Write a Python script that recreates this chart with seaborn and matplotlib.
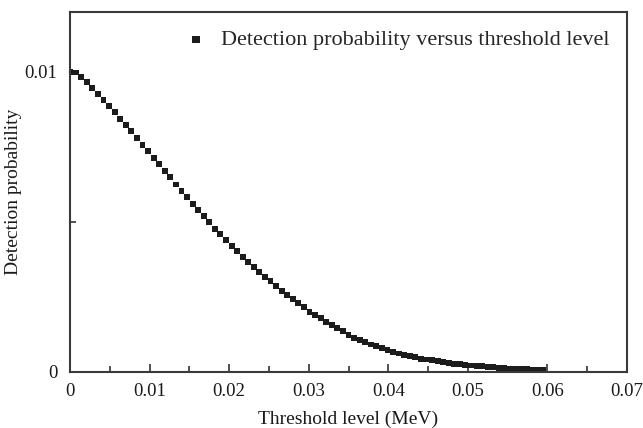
import numpy as np
import pandas as pd
import matplotlib
matplotlib.use("Agg")
import matplotlib.pyplot as plt
import seaborn as sns
from matplotlib.ticker import MultipleLocator, FixedLocator

# threshold level (MeV), sampled every 0.0007
threshold = [0.0000, 0.0007, 0.0014, 0.0021, 0.0028, 0.0035, 0.0042, 0.0049, 0.0056, 0.0063,
             0.0070, 0.0077, 0.0084, 0.0091, 0.0098, 0.0105, 0.0112, 0.0119, 0.0126, 0.0133,
             0.0140, 0.0147, 0.0154, 0.0161, 0.0168, 0.0175, 0.0182, 0.0189, 0.0196, 0.0203,
             0.0210, 0.0217, 0.0224, 0.0231, 0.0238, 0.0245, 0.0252, 0.0259, 0.0266, 0.0273,
             0.0280, 0.0287, 0.0294, 0.0301, 0.0308, 0.0315, 0.0322, 0.0329, 0.0336, 0.0343,
             0.0350, 0.0357, 0.0364, 0.0371, 0.0378, 0.0385, 0.0392, 0.0399, 0.0406, 0.0413,
             0.0420, 0.0427, 0.0434, 0.0441, 0.0448, 0.0455, 0.0462, 0.0469, 0.0476, 0.0483,
             0.0490, 0.0497, 0.0504, 0.0511, 0.0518, 0.0525, 0.0532, 0.0539, 0.0546, 0.0553,
             0.0560, 0.0567, 0.0574, 0.0581, 0.0588, 0.0595]

probability = [0.01000, 0.00998, 0.00983, 0.00965, 0.00946, 0.00926, 0.00907, 0.00886, 0.00866, 0.00844,
               0.00824, 0.00802, 0.00779, 0.00756, 0.00736, 0.00713, 0.00692, 0.00669, 0.00648, 0.00624,
               0.00601, 0.00582, 0.00559, 0.00539, 0.00519, 0.00498, 0.00477, 0.00459, 0.00438, 0.00419,
               0.00402, 0.00382, 0.00366, 0.00348, 0.00331, 0.00315, 0.00301, 0.00285, 0.00270, 0.00256,
               0.00241, 0.00228, 0.00215, 0.00200, 0.00189, 0.00178, 0.00166, 0.00155, 0.00145, 0.00134,
               0.00123, 0.00112, 0.00104, 0.00097, 0.00090, 0.00084, 0.00078, 0.00072, 0.00066, 0.00060,
               0.00055, 0.00051, 0.00047, 0.00043, 0.00040, 0.00037, 0.00034, 0.00031, 0.00029, 0.00026,
               0.00024, 0.00022, 0.00020, 0.00019, 0.00017, 0.00015, 0.00014, 0.00013, 0.00011, 0.00010,
               0.00009, 0.00008, 0.00007, 0.00006, 0.00005, 0.00004]

xticks = [0, 0.01, 0.02, 0.03, 0.04, 0.05, 0.06, 0.07]
xticklabels = ["0", "0.01", "0.02", "0.03", "0.04", "0.05", "0.06", "0.07"]
yticks = [0, 0.01]
yticklabels = ["0", "0.01"]


def main():
    sns.set_style("ticks")
    plt.rcParams["font.family"] = ["Liberation Serif", "DejaVu Serif"]

    df = pd.DataFrame({"threshold": threshold, "probability": probability})

    fig = plt.figure(figsize=(6.43, 4.28), dpi=100)
    ax = fig.add_axes([0.109, 0.132, 0.866, 0.840])

    sns.scatterplot(data=df, x="threshold", y="probability", ax=ax, marker="s",
                    s=18, color="#1c1c1c", edgecolor="none",
                    label="Detection probability versus threshold level")

    ax.set_xlim(0, 0.07)
    ax.set_ylim(0, 0.012)
    ax.set_xticks(xticks)
    ax.set_xticklabels(xticklabels)
    ax.xaxis.set_minor_locator(MultipleLocator(0.005))
    ax.set_yticks(yticks)
    ax.set_yticklabels(yticklabels)
    ax.yaxis.set_minor_locator(FixedLocator([0.005]))

    ax.tick_params(which="both", direction="in", colors="#333333", labelcolor="#1a1a1a",
                   labelsize=13.5, width=1.2)
    ax.tick_params(which="major", length=6)
    ax.tick_params(which="minor", length=4)
    ax.tick_params(axis="x", which="major", pad=8)
    ax.tick_params(axis="y", which="major", pad=9)
    for sp in ax.spines.values():
        sp.set_color("#3a3a3a")
        sp.set_linewidth(1.5)

    ax.set_xlabel("Threshold level (MeV)", fontsize=14, color="#1a1a1a", labelpad=8)
    ax.set_ylabel("Detection probability", fontsize=14, color="#1a1a1a", labelpad=2)

    ax.legend(loc="upper right", frameon=False, fontsize=16, handletextpad=0.5,
              markerscale=1.3, borderaxespad=0.4, handlelength=1.2)

    fig.savefig("out.png", dpi=100)


if __name__ == "__main__":
    main()
